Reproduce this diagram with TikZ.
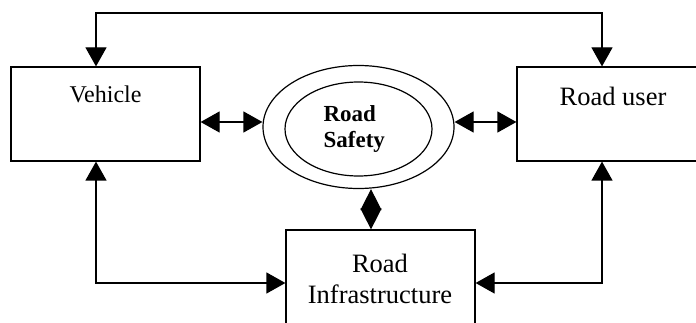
\documentclass[tikz,border=0pt]{standalone}
\usepackage{fontspec}
\setmainfont{Liberation Serif}
\usetikzlibrary{arrows.meta,shapes.geometric}
\tikzset{
  box/.style={draw, rectangle, inner sep=0pt},
  oval/.style={draw, ellipse, inner sep=0pt},
  txt/.style={inner sep=0pt, anchor=base},
  conn/.style={<->},
  diamondconn/.style={{Triangle[length=21pt,width=21pt]}-{Triangle[length=21pt,width=21pt]}},
}
\begin{document}
\begin{tikzpicture}[x=1pt,y=-1pt, line width=1.2pt,
  >={Triangle[length=19pt,width=21pt]}]
\useasboundingbox (0,0) rectangle (696,323);
\clip (0,0) rectangle (696,323);
% boxes
\node[box, minimum width=189pt, minimum height=94pt] (veh) at (105.5,114) {};
\node[box, minimum width=203pt, minimum height=94pt] (user) at (618.5,114) {};
\node[box, minimum width=189pt, minimum height=110pt] (infra) at (380.5,285) {};
\node[oval, minimum width=191pt, minimum height=123pt] (outer) at (358.5,127) {};
\node[oval, minimum width=147pt, minimum height=94pt] (inner) at (358.5,129) {};
% texts
\node[txt, font=\fontsize{24}{28}\selectfont] (vehtxt) at (105.5,103) {Vehicle};
\node[txt, font=\fontsize{26.5}{30}\selectfont] (usertxt) at (613,106) {Road user};
\node[txt, font=\fontsize{26.5}{30}\selectfont] (infratxt1) at (380,272) {Road};
\node[txt, font=\fontsize{26.5}{30}\selectfont] (infratxt2) at (380,303) {Infrastructure};
\node[txt, anchor=base west, font=\fontsize{23}{26}\selectfont\bfseries] (rs1) at (323,122) {Road};
\node[txt, anchor=base west, font=\fontsize{23}{26}\selectfont\bfseries] (rs2) at (323,148) {Safety};
% helper coordinates
\coordinate (tl) at (96,13);
\coordinate (tr) at (602,13);
\coordinate (bl) at (96,283);
\coordinate (br) at (602,283);
\coordinate (hy) at (0,122);
\coordinate (dc) at (371,0);
% connectors
\draw[conn] (veh.north -| tl) -- (tl) -- (tr) -- (user.north -| tr);
\draw[conn] (veh.east |- hy) -- (outer.west |- hy);
\draw[conn] (outer.east |- hy) -- (user.west |- hy);
\draw[diamondconn] (outer.south -| dc) -- (infra.north -| dc);
\draw[conn] (veh.south -| bl) -- (bl) -- (infra.west |- bl);
\draw[conn] (user.south -| br) -- (br) -- (infra.east |- br);
\end{tikzpicture}
\end{document}
